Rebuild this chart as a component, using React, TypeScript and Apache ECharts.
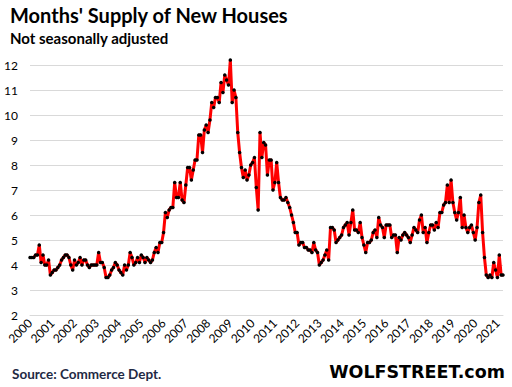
import React, { useEffect, useRef } from "react";
import * as echarts from "echarts";

// Tick labels (years) and monthly categories
const years = [
  "2000", "2001", "2002", "2003", "2004", "2005", "2006", "2007", "2008", "2009", "2010",
  "2011", "2012", "2013", "2014", "2015", "2016", "2017", "2018", "2019", "2020", "2021",
];
const lastYearMonths = 4; // data ends April 2021

// Months' supply, not seasonally adjusted, Jan 2000 – Apr 2021
const supply2000s = [
  4.3, 4.3, 4.3, 4.4, 4.4, 4.8, 4.1, 4.4, 4.0, 4.0, 4.2, 3.6, // 2000
  3.7, 3.8, 3.8, 3.9, 4.0, 4.2, 4.3, 4.4, 4.4, 4.3, 4.0, 3.8, // 2001
  4.2, 4.0, 4.1, 4.3, 4.0, 4.2, 4.2, 4.0, 3.9, 4.0, 4.0, 4.0, // 2002
  4.0, 4.5, 4.1, 4.1, 3.9, 3.5, 3.5, 3.6, 3.8, 3.9, 4.1, 4.0, // 2003
  3.8, 3.7, 3.6, 4.0, 3.8, 4.0, 4.5, 4.3, 4.0, 4.1, 4.3, 4.1, // 2004
  4.4, 4.3, 4.1, 4.3, 4.2, 4.1, 4.2, 4.5, 4.7, 4.5, 4.9, 4.9, // 2005
  5.3, 6.1, 5.9, 6.2, 6.3, 6.3, 7.3, 6.7, 6.7, 7.3, 6.6, 6.5, // 2006
  7.2, 7.9, 7.9, 7.4, 7.8, 8.2, 8.2, 9.2, 9.2, 8.5, 9.4, 9.6, // 2007
  9.3, 9.8, 10.5, 10.3, 10.7, 10.7, 10.5, 11.3, 10.9, 11.6, 11.4, 11.2, // 2008
  12.2, 10.5, 11.0, 10.7, 9.3, 8.5, 7.9, 7.5, 7.8, 7.4, 7.6, 8.0, // 2009
];
const supply2010s = [
  8.1, 8.3, 7.1, 6.2, 9.3, 8.3, 8.9, 8.8, 7.6, 8.2, 8.2, 7.0, // 2010
  7.3, 8.1, 7.3, 6.7, 6.6, 6.6, 6.7, 6.5, 6.3, 6.0, 5.7, 5.3, // 2011
  5.3, 4.8, 4.9, 4.9, 4.7, 4.7, 4.6, 4.6, 4.5, 4.9, 4.6, 4.5, // 2012
  4.0, 4.1, 4.2, 4.4, 4.6, 4.2, 5.5, 5.5, 5.4, 4.9, 5.0, 5.1, // 2013
  5.2, 5.5, 5.6, 5.7, 5.2, 5.7, 6.2, 5.4, 5.4, 5.3, 5.7, 5.1, // 2014
  4.8, 4.5, 4.9, 4.9, 5.0, 5.3, 5.4, 5.1, 5.9, 5.6, 5.5, 5.1, // 2015
  5.6, 5.6, 5.6, 5.1, 5.2, 5.2, 4.5, 5.1, 5.0, 5.2, 5.3, 5.2, // 2016
  5.1, 4.9, 5.2, 5.5, 5.4, 5.3, 5.8, 6.0, 5.3, 5.5, 4.9, 5.3, // 2017
  5.6, 5.6, 5.4, 5.7, 5.5, 6.1, 6.1, 6.4, 6.5, 7.2, 6.5, 7.4, // 2018
  6.5, 6.1, 5.8, 6.1, 6.7, 5.5, 6.0, 5.5, 5.3, 5.5, 5.6, 5.3, // 2019
];
const supply2020s = [
  5.0, 5.5, 6.5, 6.8, 5.3, 4.3, 3.6, 3.5, 3.6, 3.5, 4.1, 3.8, // 2020
  3.5, 4.4, 3.6, 3.6, // 2021 (Jan–Apr)
];

const titleText = "Months' Supply of New Houses";
const subtitleText = "Not seasonally adjusted";
const sourceText = "Source: Commerce Dept.";
const brandText = "WOLFSTREET.com";

export default function App() {
  const ref = useRef<HTMLDivElement>(null);

  useEffect(() => {
    document.body.style.margin = "0";
    if (!ref.current) return;
    const chart = echarts.init(ref.current, undefined, { renderer: "svg" });

    const values = [...supply2000s, ...supply2010s, ...supply2020s];
    const categories: string[] = [];
    years.forEach((y, yi) => {
      const n = yi === years.length - 1 ? lastYearMonths : 12;
      for (let m = 1; m <= n; m++) categories.push(`${y}-${String(m).padStart(2, "0")}`);
    });
    const data = categories.map((c, i) => values[i]);

    chart.setOption({
      animation: false,
      backgroundColor: "#ffffff",
      grid: { left: 30, right: 9, top: 65, bottom: 72, containLabel: false },
      xAxis: {
        type: "category",
        data: categories,
        boundaryGap: false,
        axisLine: { show: true, lineStyle: { color: "#d9d9d9", width: 1 } },
        axisTick: { show: false },
        axisLabel: {
          interval: (index: number) => index % 12 === 0,
          formatter: (v: string) => v.slice(0, 4),
          rotate: 45,
          margin: 6,
          color: "#000000",
          fontFamily: "Lato",
          fontSize: 12,
        },
        splitLine: { show: false },
      },
      yAxis: {
        type: "value",
        min: 2,
        max: 12,
        interval: 1,
        axisLine: { show: false },
        axisTick: { show: false },
        axisLabel: { color: "#000000", fontFamily: "Lato", fontSize: 12, margin: 12 },
        splitLine: { lineStyle: { color: "#d9d9d9", width: 1 } },
      },
      series: [
        {
          type: "line",
          data,
          clip: false,
          symbol: "circle",
          symbolSize: 3.5,
          showAllSymbol: true,
          itemStyle: { color: "#000000" },
          lineStyle: { color: "#ff0000", width: 3 },
          z: 3,
        },
      ],
      graphic: [
        {
          type: "text",
          left: 10,
          top: 5,
          style: { text: titleText, font: "bold 20px Lato", fill: "#000000" },
        },
        {
          type: "text",
          left: 10,
          top: 30,
          style: { text: subtitleText, font: "bold 15px Lato", fill: "#000000" },
        },
        {
          type: "text",
          left: 12,
          top: 367,
          style: { text: sourceText, font: "bold 13.5px Lato", fill: "#1f2a44" },
        },
        {
          type: "text",
          right: 7,
          top: 363,
          style: { text: brandText, font: "bold 17.5px 'DejaVu Sans'", fill: "#000000" },
        },
      ],
    });

    return () => chart.dispose();
  }, []);

  return <div ref={ref} style={{ width: 512, height: 387 }} />;
}
